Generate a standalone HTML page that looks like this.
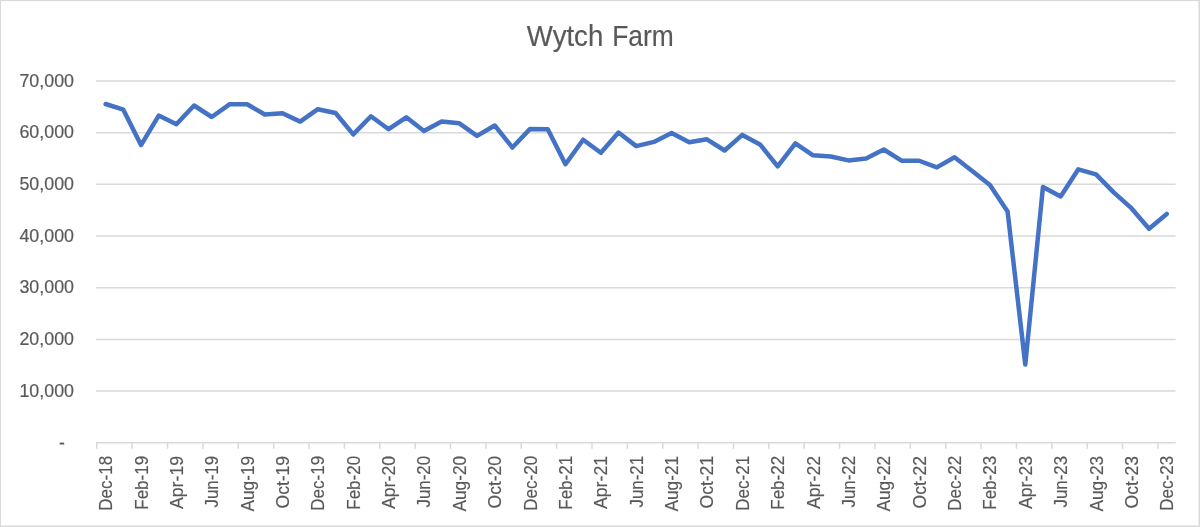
<!DOCTYPE html>
<html lang="en"><head><meta charset="utf-8"><title>Wytch Farm</title>
<style>
html,body{margin:0;padding:0;background:#fff;}
body{width:1200px;height:527px;overflow:hidden;}
svg{display:block;}
text{font-family:"Liberation Sans",sans-serif;fill:#595959;stroke:#595959;stroke-width:0.18px;}
</style></head><body>
<svg width="1200" height="527" viewBox="0 0 1200 527">
<rect x="0" y="0" width="1200" height="527" fill="#ffffff"/>
<rect x="0.25" y="0.35" width="1199" height="525.85" fill="none" stroke="#d9d9d9" stroke-width="1.5"/>

<g stroke="#d9d9d9" stroke-width="1.5" fill="none">
<line x1="96.00" y1="442.75" x2="1175.60" y2="442.75"/>
<line x1="96.00" y1="391.07" x2="1175.60" y2="391.07"/>
<line x1="96.00" y1="339.39" x2="1175.60" y2="339.39"/>
<line x1="96.00" y1="287.71" x2="1175.60" y2="287.71"/>
<line x1="96.00" y1="236.04" x2="1175.60" y2="236.04"/>
<line x1="96.00" y1="184.36" x2="1175.60" y2="184.36"/>
<line x1="96.00" y1="132.68" x2="1175.60" y2="132.68"/>
<line x1="96.00" y1="81.00" x2="1175.60" y2="81.00"/>
<line x1="96.80" y1="442.75" x2="96.80" y2="448.75"/>
<line x1="132.17" y1="442.75" x2="132.17" y2="448.75"/>
<line x1="167.54" y1="442.75" x2="167.54" y2="448.75"/>
<line x1="202.91" y1="442.75" x2="202.91" y2="448.75"/>
<line x1="238.28" y1="442.75" x2="238.28" y2="448.75"/>
<line x1="273.65" y1="442.75" x2="273.65" y2="448.75"/>
<line x1="309.02" y1="442.75" x2="309.02" y2="448.75"/>
<line x1="344.39" y1="442.75" x2="344.39" y2="448.75"/>
<line x1="379.76" y1="442.75" x2="379.76" y2="448.75"/>
<line x1="415.13" y1="442.75" x2="415.13" y2="448.75"/>
<line x1="450.50" y1="442.75" x2="450.50" y2="448.75"/>
<line x1="485.88" y1="442.75" x2="485.88" y2="448.75"/>
<line x1="521.25" y1="442.75" x2="521.25" y2="448.75"/>
<line x1="556.62" y1="442.75" x2="556.62" y2="448.75"/>
<line x1="591.99" y1="442.75" x2="591.99" y2="448.75"/>
<line x1="627.36" y1="442.75" x2="627.36" y2="448.75"/>
<line x1="662.73" y1="442.75" x2="662.73" y2="448.75"/>
<line x1="698.10" y1="442.75" x2="698.10" y2="448.75"/>
<line x1="733.47" y1="442.75" x2="733.47" y2="448.75"/>
<line x1="768.84" y1="442.75" x2="768.84" y2="448.75"/>
<line x1="804.21" y1="442.75" x2="804.21" y2="448.75"/>
<line x1="839.58" y1="442.75" x2="839.58" y2="448.75"/>
<line x1="874.95" y1="442.75" x2="874.95" y2="448.75"/>
<line x1="910.32" y1="442.75" x2="910.32" y2="448.75"/>
<line x1="945.69" y1="442.75" x2="945.69" y2="448.75"/>
<line x1="981.06" y1="442.75" x2="981.06" y2="448.75"/>
<line x1="1016.43" y1="442.75" x2="1016.43" y2="448.75"/>
<line x1="1051.80" y1="442.75" x2="1051.80" y2="448.75"/>
<line x1="1087.17" y1="442.75" x2="1087.17" y2="448.75"/>
<line x1="1122.54" y1="442.75" x2="1122.54" y2="448.75"/>
<line x1="1157.91" y1="442.75" x2="1157.91" y2="448.75"/>
</g>
<g font-size="17.5" text-anchor="end">
<text x="64.8" y="449.45">-</text>
<text x="74" y="396.67" textLength="54.6" lengthAdjust="spacingAndGlyphs">10,000</text>
<text x="74" y="344.99" textLength="54.6" lengthAdjust="spacingAndGlyphs">20,000</text>
<text x="74" y="293.31" textLength="54.6" lengthAdjust="spacingAndGlyphs">30,000</text>
<text x="74" y="241.64" textLength="54.6" lengthAdjust="spacingAndGlyphs">40,000</text>
<text x="74" y="189.96" textLength="54.6" lengthAdjust="spacingAndGlyphs">50,000</text>
<text x="74" y="138.28" textLength="54.6" lengthAdjust="spacingAndGlyphs">60,000</text>
<text x="74" y="86.60" textLength="54.6" lengthAdjust="spacingAndGlyphs">70,000</text>
</g>
<g font-size="17.5" text-anchor="end">
<text transform="translate(112.14,455.9) rotate(-90)" textLength="54.8" lengthAdjust="spacingAndGlyphs">Dec-18</text>
<text transform="translate(147.51,455.9) rotate(-90)" textLength="53.8" lengthAdjust="spacingAndGlyphs">Feb-19</text>
<text transform="translate(182.88,455.9) rotate(-90)" textLength="53.2" lengthAdjust="spacingAndGlyphs">Apr-19</text>
<text transform="translate(218.25,455.9) rotate(-90)" textLength="51.6" lengthAdjust="spacingAndGlyphs">Jun-19</text>
<text transform="translate(253.62,455.9) rotate(-90)" textLength="55.6" lengthAdjust="spacingAndGlyphs">Aug-19</text>
<text transform="translate(289.00,455.9) rotate(-90)" textLength="52.6" lengthAdjust="spacingAndGlyphs">Oct-19</text>
<text transform="translate(324.37,455.9) rotate(-90)" textLength="54.8" lengthAdjust="spacingAndGlyphs">Dec-19</text>
<text transform="translate(359.74,455.9) rotate(-90)" textLength="53.8" lengthAdjust="spacingAndGlyphs">Feb-20</text>
<text transform="translate(395.11,455.9) rotate(-90)" textLength="53.2" lengthAdjust="spacingAndGlyphs">Apr-20</text>
<text transform="translate(430.48,455.9) rotate(-90)" textLength="51.6" lengthAdjust="spacingAndGlyphs">Jun-20</text>
<text transform="translate(465.85,455.9) rotate(-90)" textLength="55.6" lengthAdjust="spacingAndGlyphs">Aug-20</text>
<text transform="translate(501.22,455.9) rotate(-90)" textLength="52.6" lengthAdjust="spacingAndGlyphs">Oct-20</text>
<text transform="translate(536.59,455.9) rotate(-90)" textLength="54.8" lengthAdjust="spacingAndGlyphs">Dec-20</text>
<text transform="translate(571.96,455.9) rotate(-90)" textLength="53.8" lengthAdjust="spacingAndGlyphs">Feb-21</text>
<text transform="translate(607.33,455.9) rotate(-90)" textLength="53.2" lengthAdjust="spacingAndGlyphs">Apr-21</text>
<text transform="translate(642.70,455.9) rotate(-90)" textLength="51.6" lengthAdjust="spacingAndGlyphs">Jun-21</text>
<text transform="translate(678.07,455.9) rotate(-90)" textLength="55.6" lengthAdjust="spacingAndGlyphs">Aug-21</text>
<text transform="translate(713.44,455.9) rotate(-90)" textLength="52.6" lengthAdjust="spacingAndGlyphs">Oct-21</text>
<text transform="translate(748.81,455.9) rotate(-90)" textLength="54.8" lengthAdjust="spacingAndGlyphs">Dec-21</text>
<text transform="translate(784.18,455.9) rotate(-90)" textLength="53.8" lengthAdjust="spacingAndGlyphs">Feb-22</text>
<text transform="translate(819.55,455.9) rotate(-90)" textLength="53.2" lengthAdjust="spacingAndGlyphs">Apr-22</text>
<text transform="translate(854.92,455.9) rotate(-90)" textLength="51.6" lengthAdjust="spacingAndGlyphs">Jun-22</text>
<text transform="translate(890.29,455.9) rotate(-90)" textLength="55.6" lengthAdjust="spacingAndGlyphs">Aug-22</text>
<text transform="translate(925.66,455.9) rotate(-90)" textLength="52.6" lengthAdjust="spacingAndGlyphs">Oct-22</text>
<text transform="translate(961.03,455.9) rotate(-90)" textLength="54.8" lengthAdjust="spacingAndGlyphs">Dec-22</text>
<text transform="translate(996.40,455.9) rotate(-90)" textLength="53.8" lengthAdjust="spacingAndGlyphs">Feb-23</text>
<text transform="translate(1031.78,455.9) rotate(-90)" textLength="53.2" lengthAdjust="spacingAndGlyphs">Apr-23</text>
<text transform="translate(1067.15,455.9) rotate(-90)" textLength="51.6" lengthAdjust="spacingAndGlyphs">Jun-23</text>
<text transform="translate(1102.52,455.9) rotate(-90)" textLength="55.6" lengthAdjust="spacingAndGlyphs">Aug-23</text>
<text transform="translate(1137.89,455.9) rotate(-90)" textLength="52.6" lengthAdjust="spacingAndGlyphs">Oct-23</text>
<text transform="translate(1173.26,455.9) rotate(-90)" textLength="54.8" lengthAdjust="spacingAndGlyphs">Dec-23</text>
</g>
<text y="45.8" font-size="28.6"><tspan x="526.8" textLength="76.5" lengthAdjust="spacingAndGlyphs">Wytch</tspan> <tspan x="612.2" textLength="61.5" lengthAdjust="spacingAndGlyphs">Farm</tspan></text>
<polyline points="105.64,104.00 123.33,109.70 141.01,145.10 158.70,115.60 176.38,124.30 194.07,105.50 211.75,117.00 229.44,104.30 247.12,104.30 264.81,114.50 282.50,113.30 300.18,121.60 317.87,109.20 335.55,113.00 353.24,134.40 370.92,116.30 388.61,129.20 406.29,117.30 423.98,131.10 441.66,121.60 459.35,123.30 477.03,135.90 494.72,125.50 512.40,147.50 530.09,128.90 547.77,129.20 565.46,164.20 583.14,139.70 600.83,152.80 618.51,132.50 636.20,146.15 653.89,141.90 671.57,132.95 689.26,142.30 706.94,139.30 724.63,150.50 742.31,134.90 760.00,144.40 777.68,166.30 795.37,143.40 813.05,155.30 830.74,156.50 848.42,160.40 866.11,158.50 883.79,149.50 901.48,160.70 919.16,160.75 936.85,167.40 954.53,157.20 972.22,171.00 989.90,184.90 1007.59,211.50 1025.28,364.60 1042.96,186.90 1060.65,196.40 1078.33,169.35 1096.02,174.30 1113.70,192.30 1131.39,208.20 1149.07,228.75 1166.76,214.00" fill="none" stroke="#4472c4" stroke-width="4.5" stroke-linecap="round" stroke-linejoin="round"/>
</svg></body></html>
